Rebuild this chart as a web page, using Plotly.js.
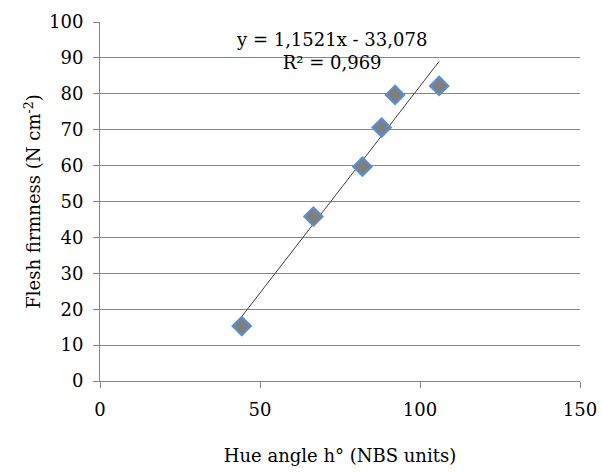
<!DOCTYPE html>
<html>
<head>
<meta charset="utf-8">
<script src="https://cdn.plot.ly/plotly-3.0.1.min.js"></script>
<style>body{margin:0;padding:0;background:#fff;}</style>
</head>
<body>
<div id="chart" style="width:602px;height:472px;"></div>
<script>
// Data
const hueAngle = [44.3, 66.7, 82.0, 88.0, 92.2, 106.0];
const firmness = [15.3, 45.8, 59.7, 70.6, 79.7, 82.2];
const slope = 1.1521;
const intercept = -33.078;
const equationText = "y = 1,1521x - 33,078<br>R² = 0,969";
const xTicks = [0, 50, 100, 150];
const yTicks = [0, 10, 20, 30, 40, 50, 60, 70, 80, 90, 100];

const xMin = Math.min(...hueAngle), xMax = Math.max(...hueAngle);
const trendX = [xMin, xMax];
const trendY = trendX.map(x => slope * x + intercept);

const font = "DejaVu Serif";
const fs = 18;

const data = [
  {
    x: trendX, y: trendY, type: 'scatter', mode: 'lines',
    line: {color: '#404040', width: 1}, hoverinfo: 'skip', showlegend: false
  },
  {
    x: hueAngle, y: firmness, type: 'scatter', mode: 'markers',
    marker: {symbol: 'diamond', size: 14, color: '#7f7f7f', line: {color: '#5b8fd0', width: 2.2}},
    showlegend: false
  }
];

const layout = {
  width: 602, height: 472,
  margin: {l: 100, r: 22, t: 22, b: 91},
  paper_bgcolor: '#ffffff', plot_bgcolor: '#ffffff',
  font: {family: font, size: fs, color: '#000000'},
  showlegend: false,
  xaxis: {
    range: [0, 150], tickvals: xTicks, ticktext: xTicks.map(String),
    showgrid: false, zeroline: false, showline: true, linecolor: '#868686', linewidth: 1,
    ticks: 'outside', ticklen: 6, tickcolor: '#868686', ticklabelstandoff: 6,
    tickfont: {family: font, size: fs, color: '#000'},
    title: {text: 'Hue angle h° (NBS units)', font: {family: font, size: fs, color: '#000'}, standoff: 30}
  },
  yaxis: {
    range: [0, 100], tickvals: yTicks, ticktext: yTicks.map(String),
    showgrid: true, gridcolor: '#868686', gridwidth: 1, zeroline: false,
    showline: true, linecolor: '#868686', linewidth: 1,
    ticks: 'outside', ticklen: 6, tickcolor: '#868686', ticklabelstandoff: 6,
    tickfont: {family: font, size: fs, color: '#000'},
    title: {text: 'Flesh firmness (N cm<sup>-2</sup>)', font: {family: font, size: fs, color: '#000'}, standoff: 3}
  },
  annotations: [{
    xref: 'paper', yref: 'paper', x: 0.483, y: 0.985,
    text: equationText, showarrow: false, align: 'center',
    font: {family: font, size: fs, color: '#000'}
  }]
};

Plotly.newPlot('chart', data, layout, {displayModeBar: false, staticPlot: true});
</script>
</body>
</html>
